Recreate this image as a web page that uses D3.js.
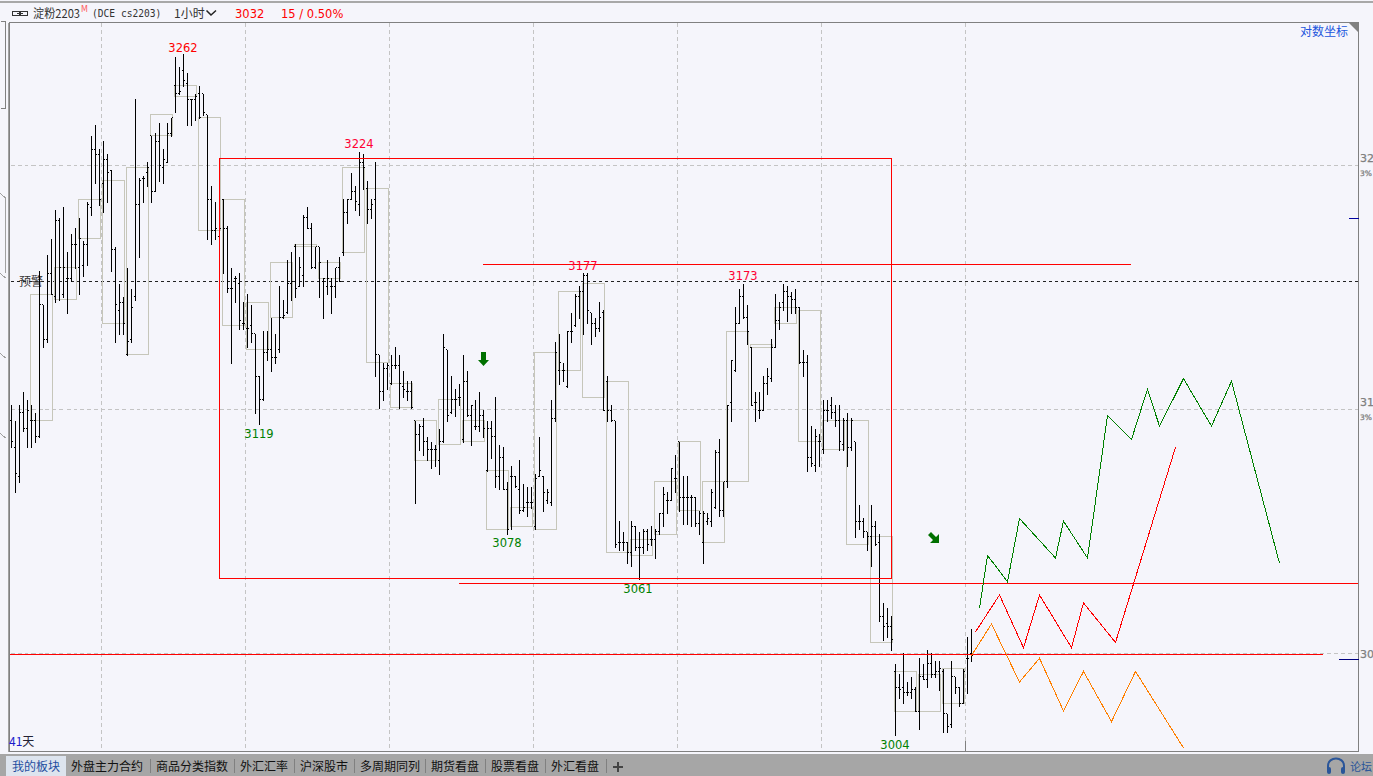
<!DOCTYPE html>
<html><head><meta charset="utf-8">
<style>html,body{margin:0;padding:0;background:#f5f5fb;overflow:hidden}svg{display:block}</style>
<script src="https://cdnjs.cloudflare.com/ajax/libs/d3/7.8.5/d3.min.js"></script>
</head><body><svg id="c" width="1373" height="776"></svg>
<script>
const highs=[3128,3122,3128,3133,3130,3128,3125,3179,3166,3185,3191,3202,3199,3203,3186,3193,3195,3199,3190,3205,3230,3234,3225,3228,3223,3217,3188,3174,3169,3180,
3172,3244,3214,3215,3220,3230,3231,3235,3225,3235,3237,3260,3256,3261,3254,3244,3246,3249,3246,3238,3211,3205,3197,3206,3196,3180,3177,3178,3167,3170,
3166,3155,3139,3156,3156,3161,3155,3173,3168,3183,3186,3189,3184,3200,3203,3197,3188,3188,3176,3183,3176,3180,3184,3206,3206,3216,3211,3224,3223,3213,
3206,3220,3147,3144,3144,3147,3150,3147,3141,3137,3137,3122,3121,3123,3116,3114,3113,3119,3155,3149,3139,3134,3136,3147,3141,3128,3130,3133,3126,3122,
3122,3131,3113,3112,3099,3105,3101,3107,3098,3097,3097,3102,3116,3101,3096,3130,3152,3155,3144,3156,3163,3170,3173,3178,3178,3163,3161,3167,3164,3139,
3128,3122,3084,3080,3076,3084,3082,3080,3081,3081,3082,3081,3087,3097,3095,3104,3109,3114,3101,3101,3094,3093,3088,3088,3087,3096,3111,3115,3099,3128,
3145,3165,3172,3174,3166,3150,3133,3133,3139,3142,3153,3170,3167,3174,3173,3171,3172,3165,3149,3147,3120,3119,3117,3130,3130,3131,3128,3128,3123,3125,
3123,3114,3090,3085,3080,3090,3084,3079,3053,3051,3048,3030,3026,3034,3023,3025,3021,3032,3030,3035,3034,3031,3031,3028,3011,3031,3025,3021,3028,3040,3043];
const lows=[3112,3095,3099,3118,3112,3112,3114,3116,3150,3152,3170,3167,3168,3169,3163,3175,3180,3170,3177,3181,3200,3212,3204,3201,3205,3179,3152,3155,3155,3147,
3152,3168,3184,3205,3211,3205,3209,3213,3212,3220,3230,3239,3246,3249,3234,3234,3236,3237,3238,3191,3189,3191,3192,3178,3171,3144,3167,3157,3157,3150,
3152,3125,3121,3130,3145,3141,3144,3148,3161,3163,3168,3169,3173,3173,3195,3180,3180,3169,3161,3170,3163,3169,3175,3185,3197,3206,3202,3200,3210,3197,
3199,3139,3127,3130,3134,3136,3142,3127,3131,3130,3127,3091,3111,3109,3107,3104,3105,3102,3114,3122,3125,3124,3128,3114,3124,3113,3119,3118,3116,3103,
3108,3097,3096,3096,3079,3081,3097,3087,3088,3086,3089,3081,3101,3088,3091,3090,3122,3136,3137,3135,3152,3158,3161,3155,3159,3151,3154,3156,3126,3122,
3122,3074,3073,3073,3068,3067,3073,3062,3072,3073,3075,3070,3079,3082,3087,3092,3095,3088,3083,3083,3082,3082,3079,3068,3083,3082,3089,3086,3086,3097,
3122,3141,3159,3161,3151,3128,3122,3123,3126,3132,3137,3150,3157,3164,3160,3163,3163,3144,3139,3103,3105,3103,3105,3110,3122,3123,3120,3111,3111,3105,
3111,3078,3081,3078,3073,3067,3075,3046,3039,3040,3035,3003,3017,3015,3018,3017,3012,3005,3024,3021,3025,3025,3020,3004,3004,3006,3019,3014,3015,3019,3031];
const opens=[3122,3112,3101,3125,3119,3122,3122,3116,3166,3153,3178,3169,3198,3170,3176,3176,3189,3180,3181,3189,3203,3225,3223,3212,3221,3217,3187,3164,3167,3147,
3153,3169,3204,3214,3216,3230,3209,3228,3218,3220,3231,3249,3246,3255,3250,3244,3244,3246,3246,3238,3206,3194,3192,3206,3195,3172,3176,3174,3159,3157,
3158,3155,3139,3130,3148,3149,3146,3149,3161,3163,3174,3188,3173,3177,3199,3195,3180,3188,3175,3173,3173,3173,3180,3186,3201,3206,3209,3204,3220,3210,
3202,3206,3147,3133,3142,3136,3143,3143,3135,3133,3133,3122,3117,3120,3114,3111,3111,3107,3114,3149,3125,3130,3131,3115,3137,3124,3120,3120,3124,3103,
3119,3116,3101,3108,3096,3101,3101,3096,3088,3091,3091,3082,3101,3101,3092,3091,3123,3141,3141,3135,3156,3158,3169,3171,3177,3163,3159,3157,3163,3137,
3126,3122,3076,3076,3076,3072,3082,3074,3074,3080,3077,3077,3080,3087,3092,3092,3100,3114,3093,3093,3093,3093,3083,3076,3084,3084,3089,3110,3088,3099,
3129,3141,3159,3169,3161,3150,3129,3126,3126,3136,3138,3150,3160,3167,3171,3169,3168,3165,3144,3144,3108,3105,3114,3111,3126,3128,3125,3122,3113,3122,
3112,3114,3084,3084,3080,3078,3082,3076,3048,3045,3044,3027,3021,3021,3019,3019,3020,3012,3025,3024,3030,3026,3027,3027,3011,3007,3025,3021,3015,3032,3034];
const closes=[3114,3102,3125,3119,3126,3122,3116,3166,3153,3178,3170,3198,3180,3180,3176,3189,3189,3191,3189,3204,3225,3223,3206,3221,3216,3187,3166,3167,3159,3152,
3165,3204,3213,3214,3218,3209,3228,3219,3221,3231,3237,3246,3247,3251,3244,3244,3245,3237,3239,3206,3194,3195,3195,3195,3172,3172,3176,3160,3159,3157,
3155,3139,3130,3148,3149,3146,3146,3161,3162,3174,3175,3172,3180,3199,3195,3180,3188,3182,3176,3176,3173,3180,3175,3201,3206,3209,3205,3220,3218,3202,
3204,3147,3133,3142,3143,3143,3143,3136,3134,3133,3127,3117,3120,3114,3111,3111,3111,3114,3150,3124,3130,3130,3131,3137,3124,3128,3120,3124,3119,3119,
3116,3101,3108,3096,3081,3101,3097,3088,3089,3091,3091,3100,3103,3095,3095,3123,3148,3144,3141,3156,3156,3169,3171,3177,3164,3159,3157,3161,3126,3126,
3122,3075,3076,3076,3072,3082,3074,3074,3080,3075,3077,3080,3087,3094,3092,3104,3100,3093,3093,3093,3093,3083,3087,3087,3085,3095,3110,3088,3099,3128,
3145,3159,3169,3161,3156,3128,3129,3126,3136,3139,3150,3160,3165,3171,3169,3168,3165,3144,3144,3108,3106,3116,3114,3126,3126,3125,3122,3114,3122,3112,
3122,3084,3084,3080,3078,3082,3075,3048,3044,3044,3039,3021,3020,3019,3019,3020,3012,3025,3024,3030,3026,3027,3028,3011,3006,3025,3021,3015,3027,3032,3033];
const dayStarts=[5,11,17,23,29,35,41,47,53,59,65,71,77,83,89,95,101,107,113,119,125,131,137,143,149,155,161,167,173,179,185,191,197,203,209,215,221,227,233];
const dayTops=[3170,3180,3206,3213,3218,3238,3249,3237,3206,3167,3182,3189,3182,3218,3210,3136,3122,3130,3122,3103,3089,3148,3171,3174,3137,3077,3099,3114,3099,3156,3151,3165,3164,3122,3122,3078,3027,3026,3028];
const dayBottoms=[3122,3168,3191,3159,3147,3230,3245,3194,3158,3149,3161,3188,3176,3186,3144,3127,3107,3113,3114,3081,3082,3081,3141,3131,3072,3071,3079,3088,3076,3099,3150,3159,3114,3111,3075,3038,3012,3012,3015];
const gridPrices=[3219,3126.5,3034];
const gridBars=[22.5,58.5,94.5,130.5,166.5,202.5,238.5];
const alertPrice=3175;
const priceLabels=["3262","3224","3177","3173","3119","3078","3061","3004"];
const labelColors=["#ff0000","#ff0033","#ff0033","#ff0033","#008000","#008000","#008000","#008000"];
const greenBars=[242,244,249,252,261,263,269,274,280,284,287,293,300,305,317];
const greenPrices=[3051,3071,3061,3085,3070,3084,3070,3124,3115,3134,3120,3138,3120,3137,3068];
const redBars=[241,247,253,257,265,268,276,291];
const redPrices=[3042,3056,3036,3056,3036,3053,3038,3112];
const orangeBars=[240,245,252,257,263,268,275,281,293];
const orangePrices=[3033,3045,3023,3032,3012,3027,3008,3027,2998];
const boxBars=[52,220], boxPrices=[3221.6,3062.4];
const redLevels=[[117.75,279.75,3181.3],[111.75,336.75,3060.5],[-0.5,327.75,3033.6]];
const tabLabels=["我的板块","外盘主力合约","商品分类指数","外汇汇率","沪深股市","多周期同列","期货看盘","股票看盘","外汇看盘"];
const tabStarts=[12,71,156,240,300,360,431,491,551];
const tabSeps=[150,234,294,354,425,485,545,606];

const svg=d3.select("#c");
const CJK='"Noto Sans CJK SC","Noto Sans",sans-serif', LAT='"DejaVu Sans",sans-serif';
const x=d3.scaleLinear().domain([0,240]).range([11.5,971.5]);
const y=d3.scaleLinear().domain([3034,3219]).range([653,165]);
const L=9.5,R=1358.5,T=22.5,B=751.5;

svg.append("rect").attr("width",1373).attr("height",776).attr("fill","#f5f5fb");
svg.append("rect").attr("y",1).attr("width",1373).attr("height",2).attr("fill","#a8a8a8");
const crisp="crispEdges";
const g=svg.append("g").attr("shape-rendering",crisp);
g.selectAll(".h").data(gridPrices).join("line").attr("x1",L+1).attr("x2",R).attr("y1",d=>y(d)).attr("y2",d=>y(d)).attr("stroke","#c4c4c4").attr("stroke-dasharray","4,3");
g.selectAll(".v").data(gridBars).join("line").attr("x1",d=>x(d)).attr("x2",d=>x(d)).attr("y1",T).attr("y2",B).attr("stroke","#c4c4c4").attr("stroke-dasharray","4,3");
g.append("line").attr("x1",965.5).attr("x2",965.5).attr("y1",741).attr("y2",B).attr("stroke","#808080");
g.append("line").attr("x1",L+1).attr("x2",R).attr("y1",y(alertPrice)).attr("y2",y(alertPrice)).attr("stroke","#222").attr("stroke-dasharray","3,3");
svg.append("text").attr("x",19).attr("y",286).attr("font-family",CJK).attr("font-size",12).attr("fill","#333").text("预警");
g.selectAll(".d").data(dayStarts).join("rect").attr("x",d=>x(d)-1).attr("width",d=>x(d+5)-x(d)+2)
 .attr("y",(d,i)=>y(dayTops[i])).attr("height",(d,i)=>y(dayBottoms[i])-y(dayTops[i])).attr("fill","none").attr("stroke","#c6c6ba");
const b=svg.append("g").attr("shape-rendering",crisp).attr("stroke","#000");
highs.forEach((h,i)=>{
 const X=x(i);
 b.append("line").attr("x1",X).attr("x2",X).attr("y1",y(h)).attr("y2",y(lows[i])+1);
 b.append("line").attr("x1",X-1.5).attr("x2",X-0.5).attr("y1",y(opens[i])).attr("y2",y(opens[i]));
 b.append("line").attr("x1",X+0.5).attr("x2",X+1.5).attr("y1",y(closes[i])).attr("y2",y(closes[i]));
});
const o=svg.append("g").attr("shape-rendering",crisp).attr("fill","none").attr("stroke","#ff0000");
o.append("rect").attr("x",x(boxBars[0])).attr("y",y(boxPrices[0])).attr("width",x(boxBars[1])-x(boxBars[0])).attr("height",y(boxPrices[1])-y(boxPrices[0]));
redLevels.forEach(l=>o.append("line").attr("x1",x(l[0])).attr("x2",x(l[1])).attr("y1",y(l[2])).attr("y2",y(l[2])));
const line=d3.line().x(d=>x(d[0])).y(d=>y(d[1]));
[[greenBars,greenPrices,"#008000"],[redBars,redPrices,"#ff0000"],[orangeBars,orangePrices,"#ff8000"]].forEach(s=>{
 o.append("path").attr("d",line(d3.zip(s[0],s[1]))).attr("stroke",s[2]);
});
const labelX=[183,359,583,743,259,507,638,895], labelY=[52,148,270,280,438,547,593,749];
svg.selectAll(".pl").data(priceLabels).join("text").attr("x",(d,i)=>labelX[i]).attr("y",(d,i)=>labelY[i])
 .attr("text-anchor","middle").attr("font-family",LAT).attr("font-size",11.5).attr("fill",(d,i)=>labelColors[i]).text(d=>d);
svg.append("path").attr("d","M481,352H486V360H489L483.5,366L478,360H481Z").attr("fill","#007000");
svg.append("path").attr("d","M931,532L936,537L939,534V543H930L933,540L928,535Z").attr("fill","#007000");
const f=svg.append("g").attr("shape-rendering",crisp);
f.append("rect").attr("x",L).attr("y",T).attr("width",R-L).attr("height",B-T).attr("fill","none").attr("stroke","#808080");
f.append("line").attr("x1",L-1).attr("x2",L-1).attr("y1",T).attr("y2",B).attr("stroke","#a0a0a0");
f.append("path").attr("d","M0.5,21.5H5.5V108.5H0.5").attr("fill","none").attr("stroke","#808080");
f.append("path").attr("d","M0,193L5.5,198V273M0,273L5.5,278M0,353L5.5,358M0,433L5.5,438").attr("fill","none").attr("stroke","#a0a0a0");
svg.append("path").attr("d","M1348,22H1358V32Z").attr("fill","#808080");
f.append("line").attr("x1",1349).attr("x2",R).attr("y1",218.5).attr("y2",218.5).attr("stroke","#0000a0");
f.append("line").attr("x1",1339).attr("x2",R).attr("y1",659.5).attr("y2",659.5).attr("stroke","#000080");
const ax=[["32",162,11],["3%",176,7.5],["31",406,11],["3%",420,7.5],["30",658,11]];
svg.selectAll(".ax").data(ax).join("text").attr("x",1360).attr("y",d=>d[1]).attr("font-family",LAT).attr("font-size",d=>d[2])
 .attr("fill","#808080").attr("stroke","#808080").attr("stroke-width",0.25).text(d=>d[0]);
svg.append("text").attr("x",1300).attr("y",36).attr("font-family",CJK).attr("font-size",12).attr("fill","#2255dd").text("对数坐标");
const d41=svg.append("text").attr("x",9).attr("y",746).attr("font-family",CJK).attr("font-size",12);
d41.append("tspan").attr("fill","#1a1acc").text("41");
d41.append("tspan").attr("fill","#223").text("天");
const h=svg.append("g");
h.append("rect").attr("x",12.5).attr("y",11.5).attr("width",7).attr("height",4).attr("fill","none").attr("stroke","#333");
h.append("rect").attr("x",20.5).attr("y",11.5).attr("width",7).attr("height",4).attr("fill","none").attr("stroke","#333");
h.append("line").attr("x1",17).attr("x2",23).attr("y1",13.5).attr("y2",13.5).attr("stroke","#333");
const ht=(t,xx,c,fam,sz,yy)=>h.append("text").attr("x",xx).attr("y",yy||18).attr("font-family",fam||CJK).attr("font-size",sz||12).attr("fill",c||"#333").text(t);
ht("淀粉2203",33).attr("textLength",47).attr("lengthAdjust","spacingAndGlyphs");
ht("M",81,"#ff6060",LAT,8,12);
ht("(DCE cs2203)",92,"#333",'"DejaVu Sans Mono",monospace',9.6,17);
ht("1小时",174);
h.append("path").attr("d","M206.5,10.5L211,15L216,10.5").attr("fill","none").attr("stroke","#222").attr("stroke-width",1.5);
ht("3032",235,"#ff0000",LAT,11.5);
ht("15 / 0.50%",281,"#ff0000",LAT,11.5);
svg.append("rect").attr("y",754).attr("width",1373).attr("height",22).attr("fill","#a6a6a6");
svg.append("rect").attr("x",6).attr("y",756).attr("width",60).attr("height",20).attr("fill","#dde4ee");
svg.selectAll(".t").data(tabLabels).join("text").attr("x",(d,i)=>tabStarts[i]).attr("y",771).attr("font-family",CJK).attr("font-size",12)
 .attr("fill",(d,i)=>i==0?"#1f4ea0":"#111").text(d=>d);
svg.selectAll(".s").data(tabSeps).join("line").attr("x1",d=>d+.5).attr("x2",d=>d+.5).attr("y1",759).attr("y2",773).attr("stroke","#808080");
svg.append("path").attr("d","M613,767H623M618,762V772").attr("stroke","#444").attr("stroke-width",2);
svg.append("path").attr("d","M1328,770V766C1328,756 1344,756 1344,766V770").attr("fill","none").attr("stroke","#2a5599").attr("stroke-width",2);
svg.append("rect").attr("x",1327).attr("y",767).attr("width",4).attr("height",7).attr("rx",2).attr("fill","#2a5599");
svg.append("rect").attr("x",1341).attr("y",767).attr("width",4).attr("height",7).attr("rx",2).attr("fill","#2a5599");
svg.append("text").attr("x",1350).attr("y",771).attr("font-family",CJK).attr("font-size",11).attr("fill","#2a5599").text("论坛");
</script></body></html>
